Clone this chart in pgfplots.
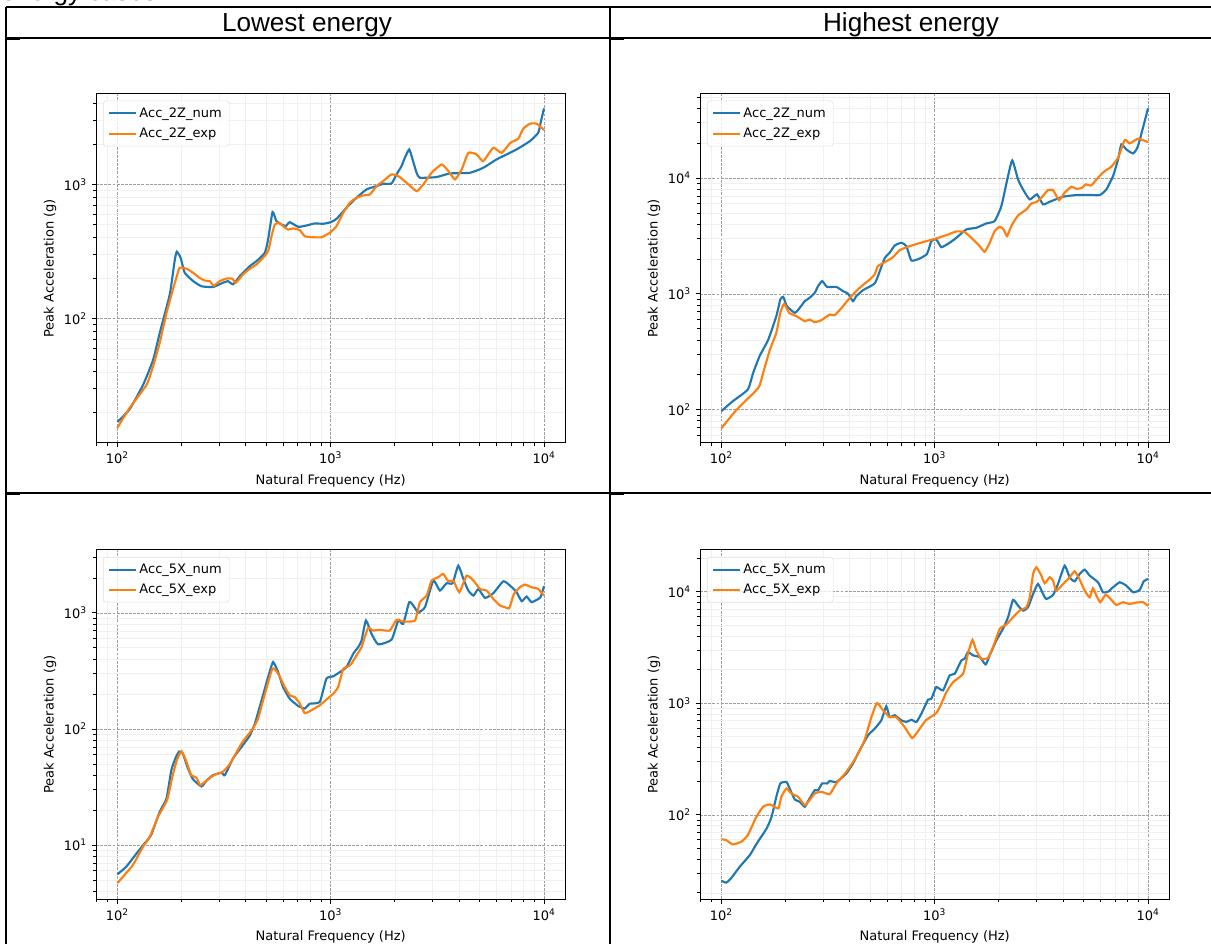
\documentclass[border=0pt]{standalone}
\usepackage{pgfplots}
\pgfplotsset{compat=1.18}
\usepackage{fontspec}
\setmainfont{DejaVu Sans}
\newfontfamily\arialf{Liberation Sans}
\definecolor{tabblue}{HTML}{1F77B4}
\definecolor{taborange}{HTML}{FF7F0E}
\pgfplotsset{
 myax/.style={
  scale only axis, width=352pt, height=262pt,
  xmin=79.43, xmax=12589,
  xtick={100,1000,10000}, xticklabels={10\textsuperscript{2},10\textsuperscript{3},10\textsuperscript{4}},
  minor xtick={80,90,200,300,400,500,600,700,800,900,2000,3000,4000,5000,6000,7000,8000,9000},
  grid=both,
  major grid style={draw=gray!75, dash pattern=on 2.2pt off 0.9pt, line width=0.4pt},
  minor grid style={draw=gray!12, line width=0.5pt},
  tick align=outside, tick pos=left,
  major tick length=3.4pt, minor tick length=1.9pt,
  tick style={black, line width=0.6pt},
  axis line style={line width=0.75pt},
  tick label style={font=\fontsize{9.75}{11}\selectfont},
  xlabel={Natural Frequency (Hz)}, ylabel={Peak Acceleration (g)},
  every axis x label/.style={at={(axis description cs:0.5,-0.109)}, anchor=center, font=\fontsize{9.75}{11}\selectfont},
  every axis y label/.style={at={(axis description cs:-0.098,0.5)}, anchor=center, rotate=90, font=\fontsize{9.75}{11}\selectfont},
  legend style={at={(axis description cs:0.015,0.98)}, anchor=north west, draw=gray!25, rounded corners=2pt, fill=white, fill opacity=0.8, text opacity=1, font=\fontsize{9.75}{11}\selectfont, inner xsep=3.5pt, inner ysep=3pt, row sep=2.5pt},
  legend cell align=left,
  legend image code/.code={\draw[##1] (0pt,0pt) -- (20pt,0pt);},
  every axis plot/.append style={line width=1.6pt, smooth, tension=0.3},
 }
}
\begin{document}
\begin{tikzpicture}
\useasboundingbox (0pt,0pt) rectangle (908.25pt,708pt);
\begin{scope}[x=0.75pt,y=0.75pt]
\draw[line width=1.1pt] (6,937) -- (1216,937);
\draw[line width=1.1pt] (6,906) -- (1216,906);
\draw[line width=1.1pt] (6,451) -- (1216,451);
\draw[line width=1.1pt] (6,937) -- (6,-5);
\draw[line width=1.1pt] (610,937) -- (610,-5);
\draw[line width=1.1pt] (6,904.5) -- (20,904.5);
\draw[line width=1.1pt] (610,904.5) -- (624,904.5);
\draw[line width=1.1pt] (6,449.5) -- (20,449.5);
\draw[line width=1.1pt] (610,449.5) -- (624,449.5);
\node[anchor=base, font=\arialf\fontsize{19.6}{22}\selectfont, inner sep=0pt] at (307,912) {Lowest energy};
\node[anchor=base, font=\arialf\fontsize{19.6}{22}\selectfont, inner sep=0pt] at (911,912) {Highest energy};
\node[anchor=base west, font=\arialf\fontsize{19.6}{22}\selectfont, inner sep=0pt] at (1,943) {energy cases};
\end{scope}

% Top-left
\begin{loglogaxis}[myax, at={(72pt,375.75pt)}, anchor=south west,
  ymin=11.8, ymax=4755,
  ytick={100,1000}, yticklabels={10\textsuperscript{2},10\textsuperscript{3}},
  minor ytick={20,30,40,50,60,70,80,90,200,300,400,500,600,700,800,900,2000,3000,4000}]
\addplot[tabblue] coordinates {(100,16.9)(114,21)(132,32)(147,49)(158,78)(176,151)(186,275)(190,315)(198,284)(207,219)(227,190)(248,174)(281,172)(313,185)(330,190)(349,180)(375,207)(418,246)(449,268)(491,309)(509,389)(534,622)(557,532)(588,503)(616,489)(643,523)(704,483)(770,494)(843,512)(922,509)(1000,523)(1065,554)(1186,670)(1321,795)(1472,918)(1640,972)(1762,1011)(1928,1017)(2036,1188)(2149,1371)(2228,1583)(2334,1825)(2420,1537)(2528,1222)(2620,1122)(3135,1135)(3620,1208)(4495,1222)(5190,1331)(5995,1537)(7440,1825)(8590,2105)(9400,2430)(9640,2885)(10000,3690)};
\addlegendentry{Acc\_2Z\_num}
\addplot[taborange] coordinates {(100,15.3)(114,21.5)(137,32)(147,44)(158,66)(170,110)(182,164)(190,207)(196,239)(211,235)(227,219)(243,201)(257,192)(271,190)(283,176)(302,190)(325,199)(346,198)(359,185)(388,213)(418,235)(449,253)(482,284)(509,318)(528,411)(547,502)(573,518)(598,489)(632,461)(667,470)(717,456)(756,411)(828,404)(906,404)(991,436)(1065,489)(1145,615)(1230,730)(1321,795)(1419,828)(1527,842)(1640,972)(1762,1059)(1928,1188)(2074,1154)(2270,1029)(2528,891)(2718,1000)(2973,1222)(3313,1410)(3562,1258)(3828,1090)(4113,1295)(4420,1722)(4832,1674)(5190,1494)(5785,1878)(6330,1722)(6970,2047)(7570,2192)(7990,2601)(8590,2838)(9250,2838)(10000,2543)};
\addlegendentry{Acc\_2Z\_exp}
\end{loglogaxis}

% Top-right
\begin{loglogaxis}[myax, at={(525pt,375.75pt)}, anchor=south west,
  ymin=51.5, ymax=53600,
  ytick={100,1000,10000}, yticklabels={10\textsuperscript{2},10\textsuperscript{3},10\textsuperscript{4}},
  minor ytick={60,70,80,90,200,300,400,500,600,700,800,900,2000,3000,4000,5000,6000,7000,8000,9000,20000,30000,40000,50000}]
\addplot[tabblue] coordinates {(100,97)(113,118)(133,149)(141,208)(151,289)(166,403)(181,641)(189,893)(195,942)(203,782)(221,685)(233,757)(246,864)(259,923)(274,1020)(284,1165)(297,1288)(313,1148)(346,1148)(372,1054)(392,1006)(414,864)(429,955)(462,1077)(523,1228)(553,1571)(584,2049)(615,2262)(650,2618)(698,2761)(737,2583)(778,1941)(851,2019)(921,2217)(965,2853)(1018,2951)(1075,2530)(1175,2761)(1264,3050)(1407,3600)(1567,3720)(1746,4058)(1910,4250)(2054,5730)(2207,10400)(2312,14220)(2459,9730)(2595,7980)(2789,6540)(3018,7230)(3221,5920)(3461,6240)(3999,6900)(4616,7130)(5330,7150)(5935,7130)(6380,7980)(6856,10400)(7240,14500)(7500,19540)(7910,17700)(8510,16340)(8980,18930)(10000,40000)};
\addlegendentry{Acc\_2Z\_num}
\addplot[taborange] coordinates {(100,69)(118,100)(149,154)(157,208)(169,330)(181,461)(189,685)(197,820)(208,685)(225,641)(246,581)(259,600)(274,569)(294,592)(322,662)(340,654)(372,782)(400,923)(445,1127)(496,1330)(523,1469)(542,1734)(584,1878)(638,2077)(686,2387)(764,2583)(882,2800)(1018,3010)(1135,3215)(1264,3458)(1383,3412)(1514,2951)(1626,2583)(1715,2307)(1811,2761)(1910,3483)(2018,3797)(2105,3600)(2183,3155)(2287,3850)(2459,4757)(2692,5358)(2838,6040)(2998,6200)(3162,6760)(3397,7870)(3589,7870)(3828,6460)(4066,7470)(4370,8410)(4616,8090)(4875,8180)(5105,8810)(5420,8640)(5830,10070)(6270,11500)(6735,12540)(7240,15000)(7780,21330)(8200,19950)(8980,21900)(9480,21200)(10000,20470)};
\addlegendentry{Acc\_2Z\_exp}
\end{loglogaxis}

% Bottom-left
\begin{loglogaxis}[myax, at={(72pt,33.5pt)}, anchor=south west,
  ymin=3.41, ymax=3480,
  ytick={10,100,1000}, yticklabels={10\textsuperscript{1},10\textsuperscript{2},10\textsuperscript{3}},
  minor ytick={4,5,6,7,8,9,20,30,40,50,60,70,80,90,200,300,400,500,600,700,800,900,2000,3000}]
\addplot[tabblue] coordinates {(100,5.6)(110,6.5)(125,8.8)(134,10.3)(144,12.2)(158,19.4)(170,25.2)(179,44)(188,57)(195,64)(203,61)(214,46)(226,37)(248,32)(262,36)(281,40)(308,42)(319,40)(349,56)(382,70)(418,88)(441,111)(474,176)(509,280)(537,377)(567,309)(598,230)(643,182)(704,158)(756,150)(798,165)(889,171)(955,271)(1027,284)(1104,309)(1186,341)(1275,444)(1346,507)(1396,578)(1463,859)(1555,659)(1671,535)(1928,587)(2074,859)(2188,804)(2334,1236)(2438,1157)(2571,1013)(2766,1119)(3027,1897)(3251,1556)(3493,1800)(3730,1800)(3965,2552)(4188,1960)(4420,1556)(4670,1409)(4925,1607)(5290,1346)(5785,1476)(6445,1871)(6925,1718)(7440,1506)(7860,1260)(8290,1381)(8750,1236)(9575,1346)(9750,1457)(10000,1695)};
\addlegendentry{Acc\_5X\_num}
\addplot[taborange] coordinates {(100,4.7)(118,6.7)(132,9.7)(142,11.8)(155,17.5)(171,24.4)(181,38.7)(190,53.8)(200,64.3)(211,52)(222,40)(235,38)(245,32.8)(262,36)(286,40.4)(311,42.6)(337,50)(382,75)(432,101)(457,123)(482,176)(533,330)(567,299)(609,230)(643,195)(679,188)(717,165)(756,137)(813,145)(889,160)(955,179)(1027,201)(1084,230)(1145,330)(1209,346)(1250,365)(1321,429)(1396,507)(1445,618)(1500,743)(1582,705)(1702,714)(1893,705)(2036,871)(2188,843)(2484,859)(2620,1236)(2818,1409)(2973,1897)(3192,2027)(3372,2163)(3558,1871)(3758,1897)(4010,1506)(4335,2094)(4670,1897)(5010,1607)(5380,1556)(5785,1319)(6220,1157)(6560,1119)(6870,1097)(7230,1457)(7710,1662)(8140,1753)(8750,1662)(9400,1607)(10000,1409)};
\addlegendentry{Acc\_5X\_exp}
\end{loglogaxis}

% Bottom-right
\begin{loglogaxis}[myax, at={(525pt,33.5pt)}, anchor=south west,
  ymin=17.5, ymax=23600,
  ytick={100,1000,10000}, yticklabels={10\textsuperscript{2},10\textsuperscript{3},10\textsuperscript{4}},
  minor ytick={20,30,40,50,60,70,80,90,200,300,400,500,600,700,800,900,2000,3000,4000,5000,6000,7000,8000,9000,20000}]
\addplot[tabblue] coordinates {(100,25.7)(105.5,24.7)(111,27)(122,34.3)(136,43.6)(146,54.7)(163,75.5)(172,96)(181,145)(189,191)(202,197)(209,172)(221,137)(233,131)(246,118)(259,140)(274,166)(284,166)(297,191)(313,191)(322,201)(346,197)(385,234)(414,288)(445,379)(487,515)(523,591)(562,703)(593,938)(615,753)(650,780)(698,703)(737,680)(778,711)(821,680)(866,805)(931,1075)(965,1097)(1018,1395)(1094,1303)(1175,1775)(1241,1836)(1334,2417)(1383,2501)(1432,2871)(1514,2681)(1626,2590)(1734,2225)(1811,2681)(1945,3650)(2090,4640)(2207,5890)(2330,8420)(2459,7490)(2595,6760)(2740,7250)(2893,9530)(3050,11710)(3221,9530)(3335,8590)(3589,9340)(3786,11710)(4066,17060)(4292,13430)(4530,12360)(4783,14390)(5050,15740)(5330,13900)(5830,12120)(6155,9860)(6500,10000)(6855,10930)(7370,12120)(7910,11320)(8510,9860)(9140,10350)(9550,12370)(10000,12980)};
\addlegendentry{Acc\_5X\_num}
\addplot[taborange] coordinates {(100,60.5)(105.5,59.4)(113,54.3)(124,57.4)(133,65.8)(146,96)(157,118)(169,124)(185,114)(191,145)(202,172)(213,155)(229,145)(246,122)(259,135)(274,155)(294,161)(322,153)(346,191)(385,242)(429,330)(469,466)(505,751)(537,1003)(573,862)(615,751)(660,751)(723,612)(785,488)(851,591)(909,703)(1018,817)(1075,991)(1135,1259)(1220,1546)(1358,1836)(1432,2773)(1503,3700)(1567,2967)(1655,2500)(1778,2550)(1876,3178)(2018,4640)(2167,5070)(2330,5890)(2500,6760)(2692,7250)(2789,8890)(2893,14390)(2998,16520)(3162,13900)(3280,11880)(3461,13430)(3589,12540)(3715,10200)(3999,11710)(4292,13430)(4530,15200)(4750,13150)(5050,10200)(5330,8890)(5520,10710)(5730,9200)(5980,8030)(6340,9400)(6735,8420)(7110,7600)(7640,8030)(8200,7760)(8810,7980)(9480,8030)(10000,7450)};
\addlegendentry{Acc\_5X\_exp}
\end{loglogaxis}
\end{tikzpicture}
\end{document}
